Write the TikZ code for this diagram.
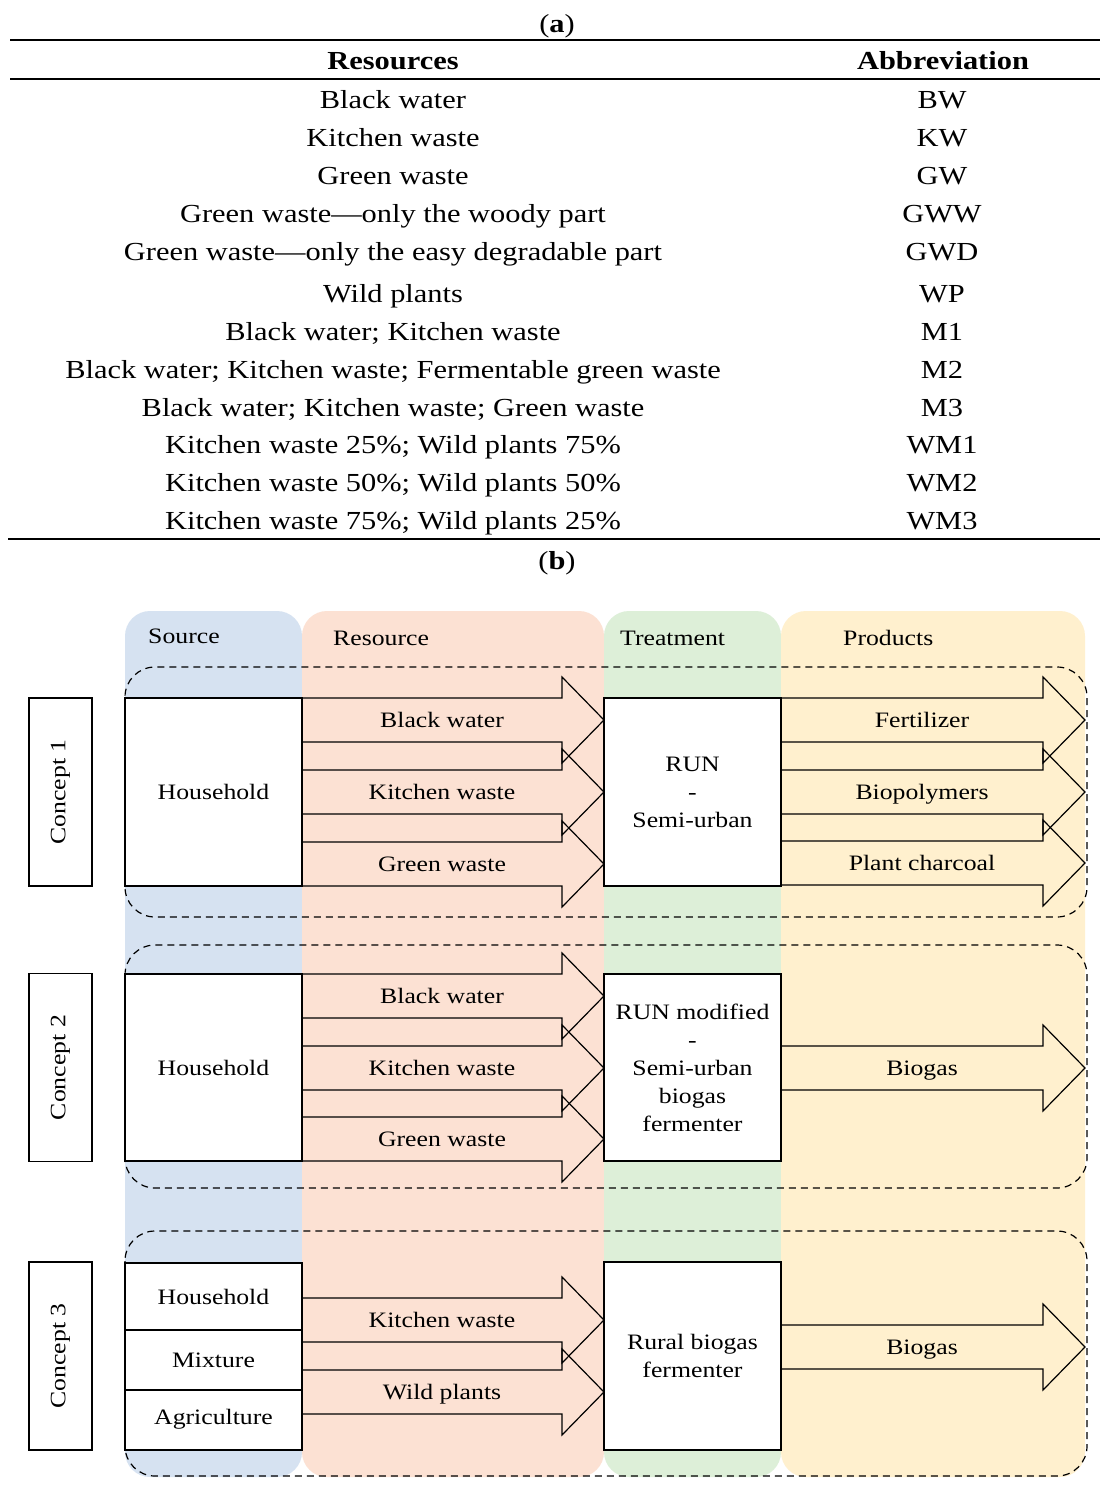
\documentclass[tikz,border=0pt]{standalone}
\usepackage{fontspec}
\setmainfont{Liberation Serif}[FakeStretch=1.17]
\definecolor{srcblue}{HTML}{D6E2F1}
\definecolor{resred}{HTML}{FCE1D3}
\definecolor{trtgreen}{HTML}{DDEFD8}
\definecolor{prdyellow}{HTML}{FFF0CE}
\newcommand\barrow[5]{%
  \draw[arrowline] (#2,{#4-22}) -- ({#3-42},{#4-22}) -- ({#3-42},{#4-43}) -- (#3,#4) -- ({#3-42},{#4+43}) -- ({#3-42},{#4+22}) -- (#2,{#4+22});
  \node[dtext] (#1) at ({(#2+#3)/2-11},#4) {#5};
}
\tikzset{
  tbl/.style={font=\fontsize{26}{30}\selectfont, inner sep=0pt, text height=17pt, text depth=0pt},
  dtext/.style={font=\fontsize{22}{28}\selectfont, inner sep=0pt, text height=14pt, text depth=0pt},
  hdr/.style={dtext, anchor=west},
  wbox/.style={draw, fill=white, line width=1.2pt, inner sep=0pt, font=\fontsize{22}{28}\selectfont, align=center},
  cbox/.style={draw, line width=1.2pt, inner sep=0pt, rotate=90, minimum width=188pt, minimum height=63pt, font=\fontsize{22}{28}\selectfont},
  arrowline/.style={line width=1.2pt, line join=miter},
  concept/.style={draw, dashed, dash pattern=on 7pt off 5pt, line width=1.2pt, rounded corners=30pt},
  column/.style={rounded corners=25pt},
  rule/.style={line width=#1},
}
\begin{document}
\begin{tikzpicture}[x=1pt,y=-1pt]
\useasboundingbox (0,0) rectangle (1100,1490);
\fill[white] (0,0) rectangle (1100,1490);
% ---------------- table (a)
\node[tbl] (capa) at (557,24) {(\textbf{a})};
\draw[rule=2pt] (10,40) -- (1100,40);
\node[tbl, font=\fontsize{26}{30}\selectfont\bfseries] (hres) at (393,61) {Resources};
\node[tbl, font=\fontsize{26}{30}\selectfont\bfseries] (habb) at (943,61) {Abbreviation};
\draw[rule=1.5pt] (10,79) -- (1100,79);
\foreach \i/\y/\t/\a in {
  1/100/{Black water}/BW,
  2/138/{Kitchen waste}/KW,
  3/176/{Green waste}/GW,
  4/214/{Green waste—only the woody part}/GWW,
  5/252/{Green waste—only the easy degradable part}/GWD,
  6/294/{Wild plants}/WP,
  7/332/{Black water; Kitchen waste}/M1,
  8/370/{Black water; Kitchen waste; Fermentable green waste}/M2,
  9/408/{Black water; Kitchen waste; Green waste}/M3,
  10/445/{Kitchen waste 25\%; Wild plants 75\%}/WM1,
  11/483/{Kitchen waste 50\%; Wild plants 50\%}/WM2,
  12/521/{Kitchen waste 75\%; Wild plants 25\%}/WM3}{
  \node[tbl] (r\i) at (393,\y) {\t};
  \node[tbl] (a\i) at (942,\y) {\a};
}
\draw[rule=2pt] (8,539) -- (1100,539);
\node[tbl] (capb) at (557,561) {(\textbf{b})};
% ---------------- diagram (b): columns
\fill[srcblue, column] (125,611) rectangle (302,1477);
\fill[resred, column] (302,611) rectangle (604,1477);
\fill[trtgreen, column] (604,611) rectangle (781,1477);
\fill[prdyellow, column] (781,611) rectangle (1085,1477);
\node[hdr] (hsrc) at (148,636) {Source};
\node[hdr] (hres2) at (333,638) {Resource};
\node[hdr] (htrt) at (620,638) {Treatment};
\node[hdr] (hprd) at (843,638) {Products};
% concept frames
\draw[concept] (125,667) rectangle (1087,917);
\draw[concept] (125,945) rectangle (1087,1188);
\draw[concept] (125,1231) rectangle (1087,1476);
% concept labels
\node[cbox] (c1) at (60.5,792) {Concept 1};
\node[cbox] (c2) at (60.5,1067.5) {Concept 2};
\node[cbox] (c3) at (60.5,1356) {Concept 3};
% ---------------- concept 1
\node[wbox, minimum width=177pt, minimum height=188pt] (hh1) at (213.5,792) {Household};
\node[wbox, minimum width=177pt, minimum height=188pt] (tr1) at (692.5,792) {RUN\\-\\Semi-urban};
\barrow{bw1}{302}{604}{720}{Black water}
\barrow{kw1}{302}{604}{792}{Kitchen waste}
\barrow{gw1}{302}{604}{864}{Green waste}
\barrow{fe1}{781}{1085}{720}{Fertilizer}
\barrow{bp1}{781}{1085}{792}{Biopolymers}
\barrow{pc1}{781}{1085}{863}{Plant charcoal}
% ---------------- concept 2
\node[wbox, minimum width=177pt, minimum height=187pt] (hh2) at (213.5,1067.5) {Household};
\node[wbox, minimum width=177pt, minimum height=187pt] (tr2) at (692.5,1067.5) {RUN modified\\-\\Semi-urban\\biogas\\fermenter};
\barrow{bw2}{302}{604}{996}{Black water}
\barrow{kw2}{302}{604}{1068}{Kitchen waste}
\barrow{gw2}{302}{604}{1139}{Green waste}
\barrow{bg2}{781}{1085}{1068}{Biogas}
% ---------------- concept 3
\node[wbox, minimum width=177pt, minimum height=67pt] (hh3) at (213.5,1296.5) {Household};
\node[wbox, minimum width=177pt, minimum height=60pt] (mx3) at (213.5,1360) {Mixture};
\node[wbox, minimum width=177pt, minimum height=60pt] (ag3) at (213.5,1420) {\raisebox{6pt}{Agriculture}};
\node[wbox, minimum width=177pt, minimum height=188pt] (tr3) at (692.5,1356) {Rural biogas\\fermenter};
\barrow{kw3}{302}{604}{1320}{Kitchen waste}
\barrow{wp3}{302}{604}{1392}{Wild plants}
\barrow{bg3}{781}{1085}{1347}{Biogas}
\end{tikzpicture}
\end{document}
